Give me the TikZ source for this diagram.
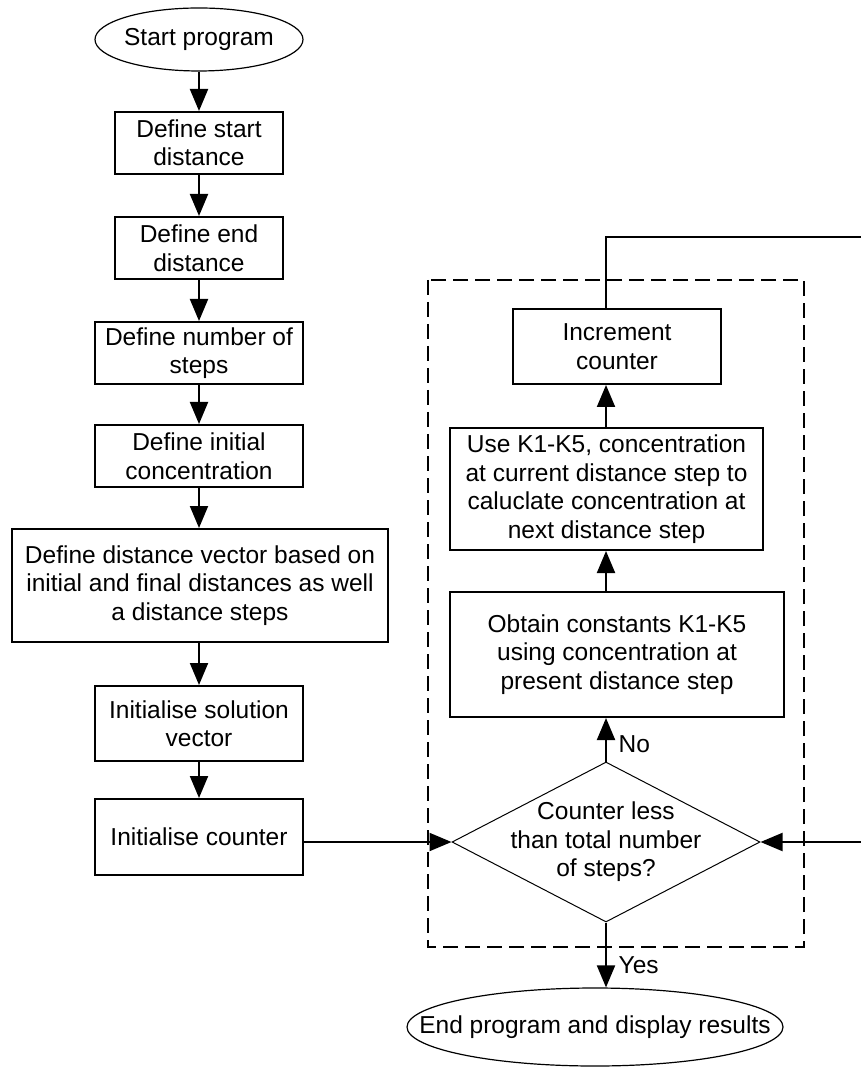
\documentclass[tikz,border=0pt]{standalone}
\usepackage{fontspec}
\setmainfont{Liberation Sans}
\usetikzlibrary{shapes.geometric,arrows.meta}

\begin{document}
\begin{tikzpicture}[
  x=0.5pt, y=-0.5pt,
  every node/.style={font=\fontsize{12.25}{14.25}\selectfont},
  procbox/.style={rectangle, draw, line width=1pt, align=center, inner sep=0pt},
  termnode/.style={ellipse, draw, line width=0.6pt, align=center, inner xsep=-30pt, inner ysep=0pt},
  decnode/.style={diamond, draw, line width=0.5pt, align=center, aspect=2, inner sep=-8pt,
    minimum width=154pt, minimum height=80pt},
  arr/.style={-{Triangle[length=11pt,width=9pt]}, line width=1pt},
  dashbox/.style={line width=1pt, dash pattern=on 7.5pt off 3.5pt},
  answer/.style={right, xshift=2.5pt}
]
\useasboundingbox (0,0) rectangle (860,1068);

% set-up column on the left
\node[termnode, minimum width=104pt, minimum height=31.5pt] (start) at (199,39.5) {Start program};
\node[procbox, minimum width=84pt, minimum height=31pt] (startdist) at (199,143) {Define start\\distance};
\node[procbox, minimum width=84pt, minimum height=31pt] (enddist) at (199,248) {Define end\\distance};
\node[procbox, minimum width=104pt, minimum height=31pt] (nsteps) at (199,353) {Define number of\\steps};
\node[procbox, minimum width=104pt, minimum height=31pt] (initconc) at (199,456) {Define initial\\concentration};
\node[procbox, minimum width=188pt, minimum height=56.5pt] (distvec) at (200,585.5) {Define distance vector based on\\initial and final distances as well\\a distance steps};
\node[procbox, minimum width=104pt, minimum height=37.5pt] (initsol) at (199,723.5) {Initialise solution\\vector};
\node[procbox, minimum width=104pt, minimum height=38pt] (initcount) at (199,837) {Initialise counter};

% loop on the right
\node[procbox, minimum width=104pt, minimum height=37.5pt] (increment) at (617,346.5) {Increment\\counter};
\node[procbox, minimum width=156.5pt, minimum height=61pt] (nextconc) at (606.5,489) {Use K1-K5, concentration\\at current distance step to\\caluclate concentration at\\next distance step};
\node[procbox, minimum width=167pt, minimum height=62.5pt] (constants) at (617,654.5) {Obtain constants K1-K5\\using concentration at\\present distance step};
\node[decnode] (check) at (606,842) {Counter less\\than total number\\of steps?};
\node[termnode, minimum width=188pt, minimum height=39pt] (finish) at (595,1027) {End program and display results};

\draw[dashbox] (428,280) rectangle (804,947);
\coordinate (loopcorner) at (864,237);

% straight flow
\draw[arr] (start) -- (startdist);
\draw[arr] (startdist) -- (enddist);
\draw[arr] (enddist) -- (nsteps);
\draw[arr] (nsteps) -- (initconc);
\draw[arr] (initconc) -- (distvec.north -| initconc.south);
\draw[arr] (distvec.south -| initsol.north) -- (initsol);
\draw[arr] (initsol) -- (initcount.north -| initsol.south);
\draw[arr] (check.west -| initcount.east) -- (check.west);

% inside the loop
\draw[arr] (check.north) -- node[pos=0.4, answer] {No} (constants.south -| check.north);
\draw[arr] (constants.north -| check.north) -- (nextconc.south -| check.north);
\draw[arr] (nextconc.north -| check.north) -- (increment.south -| check.north);
\draw[arr] (increment.north -| check.north) |- (loopcorner) |- (check.east);
\draw[arr] (check.south) -- node[pos=0.65, answer] {Yes} (finish.north -| check.south);

\end{tikzpicture}
\end{document}
